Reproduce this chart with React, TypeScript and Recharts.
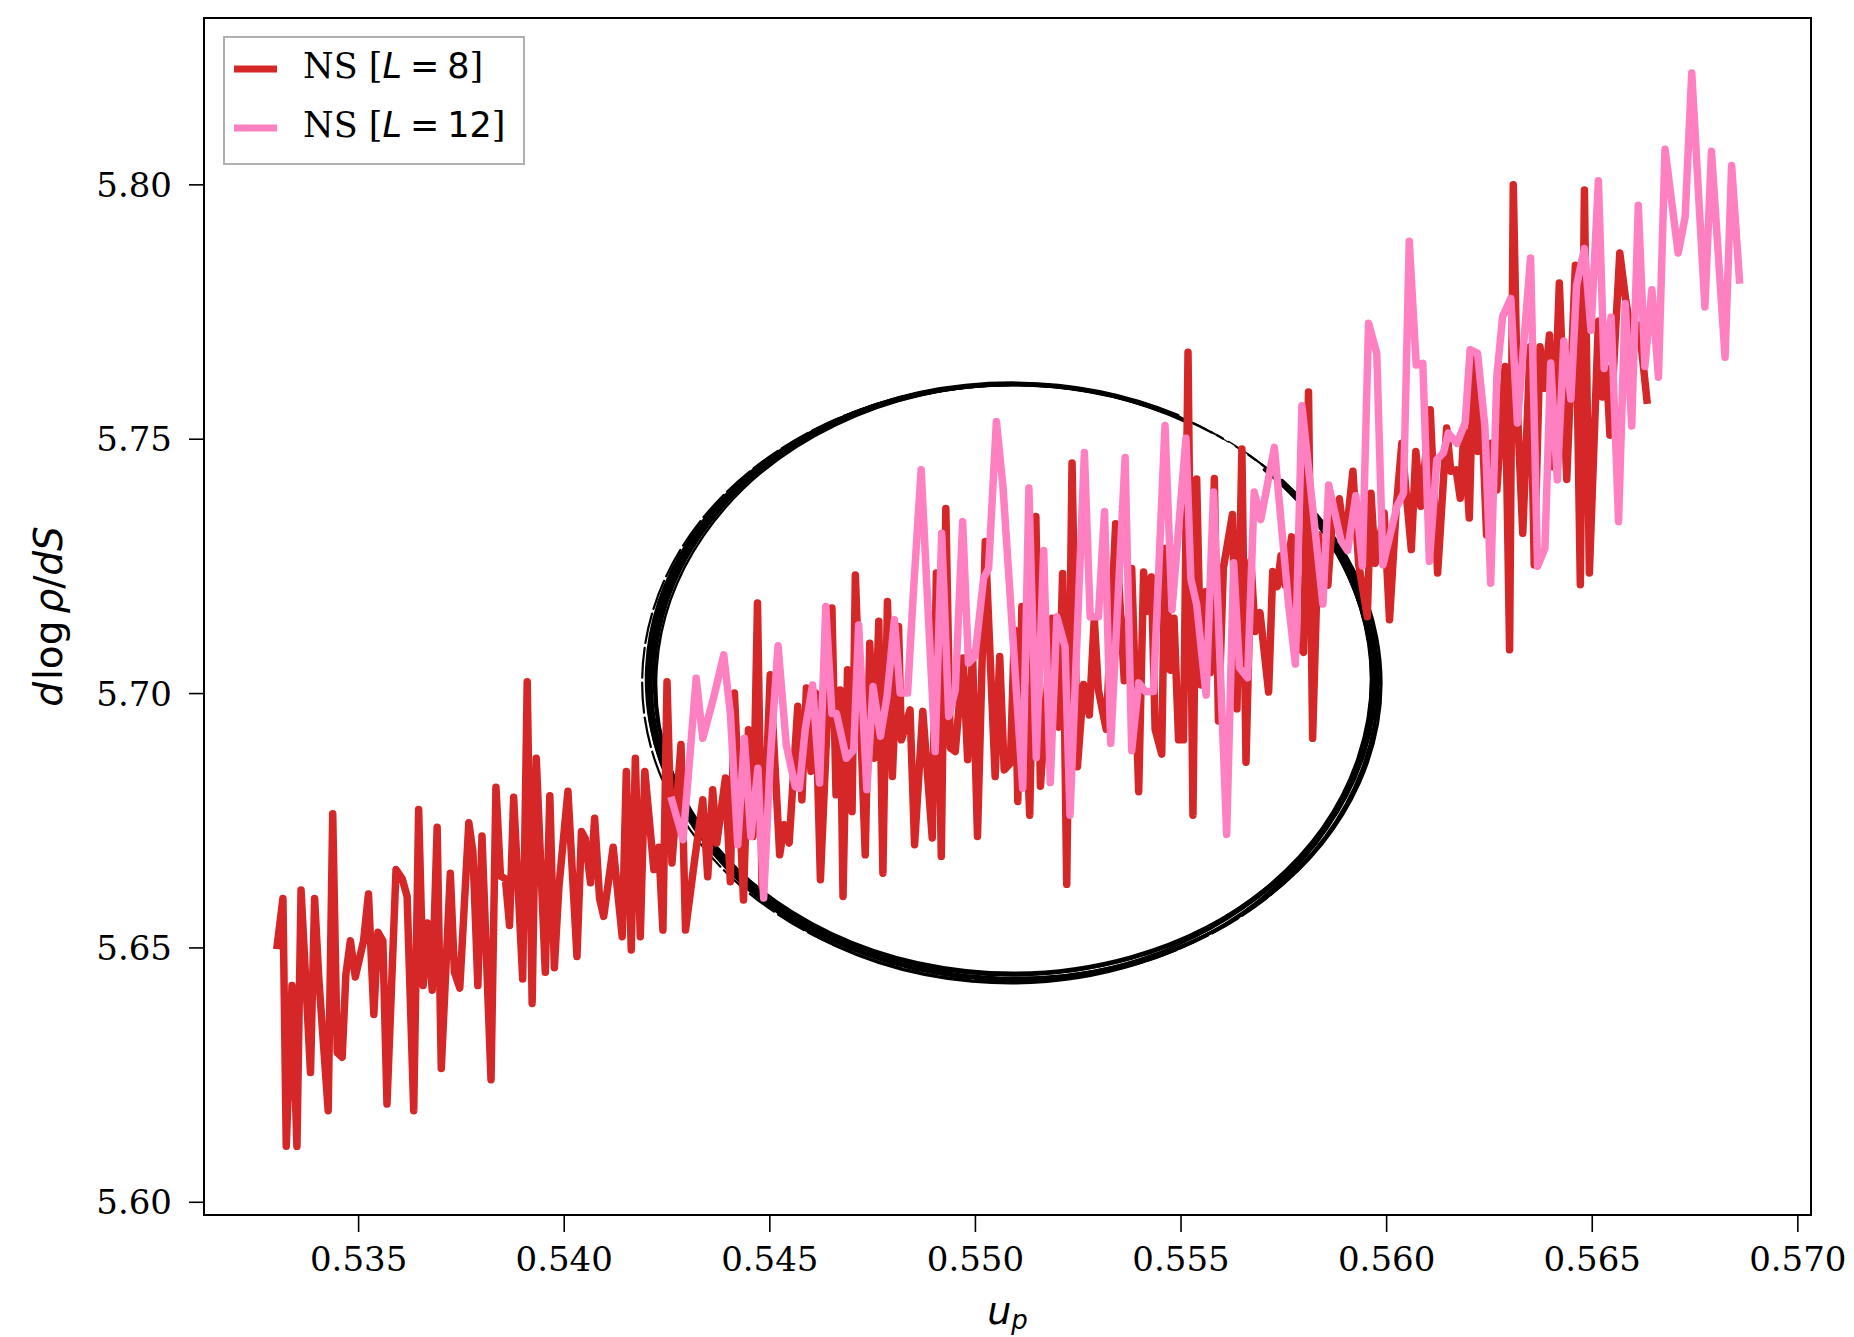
import React from 'react';
import { LineChart, Line, XAxis, YAxis, ReferenceArea, Legend } from 'recharts';

// ---------- data ----------
const redX = [
  0.53302, 0.53316, 0.53324, 0.53338, 0.5335, 0.5336, 0.53383, 0.53393, 0.53403, 0.53426,
  0.53437, 0.53448, 0.5346, 0.53469, 0.5348, 0.53492, 0.53512, 0.53524, 0.53537, 0.53547,
  0.53559, 0.53569, 0.53591, 0.53606, 0.53618, 0.53634, 0.53646, 0.53657, 0.53667, 0.53679,
  0.53691, 0.53701, 0.53723, 0.53733, 0.53746, 0.53768, 0.53778, 0.5379, 0.538, 0.53822,
  0.53834, 0.53845, 0.53857, 0.53867, 0.53877, 0.53899, 0.5391, 0.53922, 0.53932, 0.53954,
  0.53965, 0.53976, 0.53987, 0.54009, 0.54031, 0.54042, 0.54051, 0.54064, 0.54074, 0.54086,
  0.54096, 0.54119, 0.54141, 0.54151, 0.54163, 0.54173, 0.54185, 0.54196, 0.54218, 0.5423,
  0.5424, 0.5425, 0.54262, 0.54284, 0.54295,
  0.54316, 0.54337, 0.54349, 0.54361, 0.54371, 0.54392, 0.54404, 0.54414, 0.54436, 0.54448,
  0.54459, 0.5447, 0.54481, 0.54501, 0.54524, 0.54535, 0.54547, 0.54568, 0.54578, 0.54589,
  0.546, 0.54611, 0.54623, 0.54639, 0.54651, 0.54661, 0.54671, 0.54678, 0.54689, 0.547,
  0.54708,
  0.54732, 0.54743, 0.54754, 0.54765, 0.54775, 0.54786, 0.54798, 0.54813, 0.5482, 0.54841,
  0.54852, 0.54872, 0.54895, 0.54905, 0.54917, 0.54928, 0.54939, 0.54951, 0.5497, 0.54981,
  0.54993, 0.55005, 0.55024, 0.55048, 0.55059, 0.5507, 0.55085, 0.55095, 0.55103, 0.55113,
  0.55132,
  0.55147, 0.55158, 0.5517, 0.55186, 0.55202, 0.55212, 0.55222, 0.55235, 0.55248, 0.55263,
  0.55277, 0.55289, 0.55299, 0.55318, 0.55341, 0.55362, 0.5538, 0.55397, 0.55409, 0.55418,
  0.55428, 0.55437, 0.55453, 0.55461, 0.55474, 0.55483, 0.55494, 0.55506, 0.55517, 0.55529,
  0.55538,
  0.55549, 0.55559, 0.55571, 0.55581, 0.55591, 0.55603, 0.55625, 0.55636, 0.55648, 0.55658,
  0.5567, 0.5568, 0.55692, 0.55713, 0.55723, 0.55734, 0.55743, 0.55753, 0.55769, 0.5578,
  0.55798, 0.5581, 0.5582, 0.55834, 0.55857, 0.55867, 0.55885, 0.55899, 0.55918, 0.55932,
  0.55953, 0.55962, 0.55972, 0.55994, 0.56007, 0.56023, 0.56037, 0.56049, 0.5606, 0.56071,
  0.56083, 0.56106, 0.56124, 0.56146, 0.56156, 0.56169, 0.56179, 0.56188, 0.56201, 0.56211,
  0.56221, 0.56231, 0.56243, 0.56254, 0.56268, 0.56288, 0.56299, 0.56308, 0.56319, 0.56331,
  0.56349, 0.56359, 0.56373, 0.56384, 0.56396, 0.56404, 0.5642,
  0.56438, 0.56459, 0.56471, 0.56481, 0.56493, 0.56515, 0.56525, 0.56535, 0.56543, 0.56567,
  0.56581, 0.56595, 0.56614, 0.56633,
];
const redY = [
  5.6505, 5.6597, 5.611, 5.6426, 5.611, 5.6614, 5.6255, 5.6597, 5.6443, 5.618,
  5.6764, 5.6294, 5.6285, 5.6448, 5.6514, 5.6443, 5.6514, 5.6606, 5.6369, 5.6531,
  5.6514, 5.6193, 5.6654, 5.6636, 5.6601, 5.618, 5.6772, 5.6426, 5.6549, 5.6417,
  5.6737, 5.6263, 5.6647, 5.6452, 5.6421, 5.6746, 5.6689, 5.6426, 5.672, 5.6241,
  5.6816, 5.6641, 5.6636, 5.6544, 5.6796, 5.6439, 5.7023, 5.6391, 5.6873, 5.6452,
  5.6799, 5.6461, 5.6619, 5.6808, 5.6483, 5.6729, 5.6715, 5.6628, 5.6755, 5.6597,
  5.6562, 5.6698, 5.6522, 5.6847, 5.6496, 5.6873, 5.6522, 5.6847, 5.6654, 5.6698,
  5.6535, 5.7023, 5.6667, 5.69, 5.6535,
  5.6666, 5.6791, 5.664, 5.6811, 5.6706, 5.6834, 5.663, 5.7001, 5.6594, 5.6929,
  5.6719, 5.7178, 5.6621, 5.7037, 5.6683, 5.6742, 5.6706, 5.6975, 5.6791, 5.7011,
  5.6847, 5.7001, 5.6634, 5.6935, 5.7168, 5.6801, 5.7007, 5.6601, 5.7047, 5.6768,
  5.7233,
  5.6683, 5.7099, 5.6873, 5.7142, 5.6647, 5.7181, 5.6837, 5.7132, 5.6909, 5.6968,
  5.6703, 5.6965, 5.6716, 5.7237, 5.668, 5.7364, 5.6893, 5.6886, 5.707, 5.687,
  5.7079, 5.6719, 5.7299, 5.6837, 5.7073, 5.685, 5.6863, 5.7125, 5.6788, 5.7171,
  5.6761,
  5.7348, 5.6818, 5.6958, 5.7148, 5.6934, 5.7236, 5.6625, 5.7453, 5.6856, 5.7018,
  5.6958, 5.7148, 5.7007, 5.693, 5.7334, 5.7025, 5.7246, 5.6807, 5.7239, 5.7162,
  5.7229, 5.693, 5.6881, 5.7285, 5.7046, 5.7148, 5.6909, 5.6909, 5.7671, 5.6761,
  5.7422,
  5.7017, 5.72, 5.7041, 5.7423, 5.6946, 5.7247, 5.7352, 5.697, 5.7481, 5.6865,
  5.7261, 5.7122, 5.7159, 5.7003, 5.724, 5.721, 5.7271, 5.7213, 5.7308, 5.7098,
  5.7081, 5.7593, 5.6912, 5.7312, 5.7213, 5.7329, 5.7383, 5.7291, 5.7437, 5.7254,
  5.7151, 5.7394, 5.7256, 5.7355, 5.7145, 5.7361, 5.7492, 5.7381, 5.7283, 5.7476,
  5.7368, 5.7558, 5.7237, 5.7522, 5.7437, 5.744, 5.7384, 5.7519, 5.7345, 5.7656,
  5.7476, 5.7558, 5.7312, 5.7492, 5.74, 5.7643, 5.7086, 5.8, 5.7538, 5.7315,
  5.7682, 5.7253, 5.7682, 5.76, 5.7705, 5.7446, 5.7807,
  5.7421, 5.7842, 5.7214, 5.799, 5.7237, 5.7732, 5.7583, 5.764, 5.7508, 5.7866,
  5.7776, 5.7703, 5.7724, 5.7577,
];
const pinkX = [
  0.54262, 0.54289, 0.54321, 0.54337, 0.54363, 0.54388, 0.54404, 0.54422, 0.54438, 0.54454,
  0.54471, 0.54485, 0.54501, 0.5452, 0.5454, 0.54562, 0.54572, 0.54586, 0.54604, 0.54621,
  0.54636, 0.54651, 0.54662, 0.54686, 0.54704, 0.54716, 0.54736, 0.54751, 0.54769, 0.54785,
  0.54803, 0.54817, 0.54835, 0.5485, 0.54868, 0.54886, 0.54902, 0.54918, 0.54935, 0.54951,
  0.54969, 0.54983, 0.54999, 0.5502, 0.55032, 0.55051, 0.55067, 0.55115, 0.5513, 0.55148,
  0.55166, 0.55182, 0.55198, 0.55218, 0.5523, 0.55265, 0.55279, 0.55299, 0.55314, 0.55329,
  0.55364, 0.5538, 0.55397, 0.55413, 0.55433, 0.55461, 0.55478, 0.55512, 0.55524, 0.55538,
  0.55561, 0.55579, 0.55611, 0.55628, 0.55642, 0.55662, 0.55678, 0.55694, 0.55727, 0.55761,
  0.55778, 0.55794, 0.55845, 0.55859, 0.55889, 0.55905, 0.55925, 0.55941, 0.55956, 0.55976,
  0.55991, 0.56025, 0.56041, 0.56055, 0.56072, 0.56088, 0.56104, 0.56122, 0.56138, 0.5615,
  0.56171, 0.56191, 0.56203, 0.56221, 0.56239, 0.56253, 0.56268, 0.56282, 0.56302, 0.56318,
  0.5635, 0.56367, 0.56385, 0.56399, 0.56415, 0.56431, 0.56448, 0.56462, 0.56481, 0.56497,
  0.56515, 0.56529, 0.56546, 0.56564, 0.5658, 0.56596, 0.56612, 0.56628, 0.56645, 0.56661,
  0.56677, 0.56709, 0.56726, 0.56742, 0.56774, 0.5679, 0.56823, 0.56839, 0.56858,
];
const pinkY = [
  5.679, 5.6713, 5.703, 5.6912, 5.6991, 5.7076, 5.6961, 5.6703, 5.6912, 5.6719,
  5.6853, 5.6598, 5.687, 5.7094, 5.6899, 5.6817, 5.6814, 5.6929, 5.7017, 5.6824,
  5.7171, 5.6961, 5.6961, 5.6873, 5.6889, 5.7135, 5.6811, 5.7014, 5.6916, 5.6994,
  5.7145, 5.7001, 5.7001, 5.721, 5.744, 5.7145, 5.6886, 5.7315, 5.6955, 5.7007,
  5.7338, 5.706, 5.7073, 5.7227, 5.7246, 5.7535, 5.7407, 5.6814, 5.7404, 5.6874,
  5.7281, 5.6825, 5.7151, 5.7092, 5.6761, 5.7474, 5.7151, 5.7151, 5.7358, 5.6902,
  5.7464, 5.6888, 5.7021, 5.7004, 5.7004, 5.7527, 5.7165, 5.7502, 5.7225, 5.7175,
  5.6997, 5.7396, 5.6723, 5.7257, 5.7051, 5.7031, 5.7396, 5.7342, 5.7484, 5.718,
  5.7058, 5.7566, 5.7176, 5.741, 5.7301, 5.7281, 5.7389, 5.7251, 5.7728, 5.7669,
  5.7253, 5.7368, 5.7394, 5.7889, 5.7646, 5.7649, 5.726, 5.746, 5.7473, 5.7512,
  5.7492, 5.7532, 5.7676, 5.7669, 5.7525, 5.7217, 5.7623, 5.7741, 5.7777, 5.7532,
  5.7856, 5.725, 5.7286, 5.765, 5.742, 5.7693, 5.7579, 5.7802, 5.7875, 5.7714,
  5.8008, 5.7639, 5.774, 5.7338, 5.7767, 5.7526, 5.796, 5.7643, 5.7794, 5.7622,
  5.807, 5.7866, 5.7937, 5.822, 5.776, 5.8066, 5.7661, 5.8038, 5.7813,
];
const xTicks = [0.535, 0.54, 0.545, 0.55, 0.555, 0.56, 0.565, 0.57];
const yTicks = [5.6, 5.65, 5.7, 5.75, 5.8];
const xDomain = [0.53124, 0.57032];
const yDomain = [5.5975, 5.8328];
// hand-drawn circle annotation (data-space bounding box)
const ellipseXRange = [0.54209, 0.55972];
const ellipseYRange = [5.6449, 5.7609];
const seriesNames = ['NS [L = 8]', 'NS [L = 12]'];
const legendValues = ['8', '12'];

// ---------- style ----------
const RED = '#d62728';
const PINK = '#ff80c0';
const SERIF = '"DejaVu Serif", serif';
const SANS = '"DejaVu Sans", sans-serif';
const LINE_W = 7.5;

const redData = redX.map((x, i) => ({ x, y: redY[i] }));
const pinkData = pinkX.map((x, i) => ({ x, y: pinkY[i] }));

const ELLIPSE_STROKES = [
  { dx: 0, dy: 0, rx: 0, ry: 0, rot: 0, w: 4.8, t0: -42, t1: 297 },
  { dx: 0, dy: 3, rx: 3, ry: 3, rot: 0.4, w: 3.4, t0: -38, t1: 292 },
  { dx: -1, dy: 5, rx: -2, ry: 4, rot: -0.6, w: 3.2, t0: -45, t1: 300 },
  { dx: 1, dy: 2, rx: 5, ry: 2, rot: 0.8, w: 2.8, t0: -35, t1: 290 },
  { dx: 0, dy: 1, rx: -4, ry: 0, rot: -0.3, w: 3.2, t0: -40, t1: 295 },
  { dx: -2, dy: 4, rx: 6, ry: 4, rot: 0.2, w: 2.2, t0: -50, t1: 305, dash: '30 5' },
  { dx: 1, dy: 3, rx: -5, ry: 2, rot: -1.0, w: 2.4, t0: -44, t1: 298 },
  { dx: 0, dy: 0, rx: 1, ry: 0, rot: 0, w: 1.3, t0: -70, t1: -30, dash: '14 6' },
  { dx: 2, dy: 2, rx: -2, ry: 2, rot: 0.5, w: 1.1, t0: -66, t1: -34, dash: '8 8' },
];

const SketchEllipse = (props: any) => {
  const { x, y, width, height } = props;
  const cx = x + width / 2;
  const cy = y + height / 2;
  const rx = Math.abs(width) / 2;
  const ry = Math.abs(height) / 2;
  return (
    <g>
      {ELLIPSE_STROKES.map((s, i) => {
        const a = rx + s.rx;
        const b = ry + s.ry;
        const ccx = cx + s.dx;
        const ccy = cy + s.dy;
        const r = (s.rot * Math.PI) / 180;
        const pt = (t: number) => {
          const tt = (t * Math.PI) / 180;
          const ex = a * Math.cos(tt);
          const ey = b * Math.sin(tt);
          return [ccx + ex * Math.cos(r) - ey * Math.sin(r), ccy + ex * Math.sin(r) + ey * Math.cos(r)];
        };
        const [x0, y0] = pt(s.t0);
        const [x1, y1] = pt(s.t1);
        const large = s.t1 - s.t0 > 180 ? 1 : 0;
        const d = `M${x0},${y0} A${a},${b} ${s.rot} ${large} 1 ${x1},${y1}`;
        return (
          <path key={i} d={d} fill="none" stroke="#000" strokeWidth={s.w}
            strokeDasharray={(s as any).dash} strokeLinecap="round" />
        );
      })}
    </g>
  );
};

const LegendBox = () => (
  <svg width={302} height={129} style={{ display: 'block' }}>
    <rect x={1} y={1} width={300} height={127} fill="#fff" stroke="#b0b0b0" strokeWidth={2} />
    {[RED, PINK].map((c, i) => (
      <g key={i}>
        <line x1={11} x2={54} y1={33 + i * 59} y2={33 + i * 59} stroke={c} strokeWidth={7} />
        <text x={80} y={42.3 + i * 58.4} fontFamily={SERIF} fontSize={35} fill="#000">
          NS [
          <tspan fontFamily={SANS} fontStyle="italic">L</tspan>
          <tspan fontFamily={SANS} dx={8}>=</tspan>
          <tspan fontFamily={SANS} dx={8}>{legendValues[i]}</tspan>
          <tspan>]</tspan>
        </text>
      </g>
    ))}
  </svg>
);

const YLabel = (props: any) => {
  const vb = props.viewBox || { x: 0, y: 18, width: 204, height: 1197 };
  const cx = vb.x + 62;
  const cy = vb.y + vb.height / 2;
  return (
    <text x={cx} y={cy} transform={`rotate(-90, ${cx}, ${cy})`} textAnchor="middle"
      fontFamily={SANS} fontSize={39} fill="#000">
      <tspan fontStyle="italic">d</tspan>
      <tspan dx={2}>log</tspan>
      <tspan dx={7} fontStyle="italic">ρ</tspan>
      <tspan>/</tspan>
      <tspan fontStyle="italic">dS</tspan>
    </text>
  );
};

const XLabel = (props: any) => {
  const vb = props.viewBox || { x: 204, y: 1215, width: 1607, height: 122 };
  const cx = vb.x + vb.width / 2;
  const by = vb.y + 109;
  return (
    <text x={cx} y={by} textAnchor="middle" fontFamily={SANS} fontSize={38} fill="#000">
      <tspan fontStyle="italic">u</tspan>
      <tspan fontStyle="italic" fontSize={26} dy={5}>p</tspan>
    </text>
  );
};

export default function App() {
  return (
    <div style={{ width: 1854, height: 1337, background: '#fff' }}>
      <style>{'html,body{margin:0;padding:0;overflow:hidden;background:#fff}'}</style>
      <LineChart width={1854} height={1337} margin={{ top: 18, right: 43, bottom: 0, left: 0 }}>
        <XAxis
          dataKey="x"
          type="number"
          domain={xDomain}
          ticks={xTicks}
          interval={0}
          allowDataOverflow
          tickFormatter={(v: number) => v.toFixed(3)}
          tick={{ fontFamily: SERIF, fontSize: 34, fill: '#000' }}
          tickSize={17}
          tickMargin={15}
          axisLine={{ stroke: '#000', strokeWidth: 2 }}
          tickLine={{ stroke: '#000', strokeWidth: 1.6 }}
          height={122}
          label={<XLabel />}
        />
        <YAxis
          type="number"
          domain={yDomain}
          ticks={yTicks}
          interval={0}
          allowDataOverflow
          tickFormatter={(v: number) => v.toFixed(2)}
          tick={{ fontFamily: SERIF, fontSize: 34, fill: '#000' }}
          tickSize={15}
          tickMargin={17}
          axisLine={{ stroke: '#000', strokeWidth: 2 }}
          tickLine={{ stroke: '#000', strokeWidth: 1.6 }}
          width={204}
          label={<YLabel />}
        />
        <ReferenceArea x1={xDomain[0]} x2={xDomain[1]} y1={yDomain[0]} y2={yDomain[1]}
          fill="none" fillOpacity={0} stroke="#000" strokeWidth={2} ifOverflow="visible" />
        <Line data={redData} dataKey="y" name={seriesNames[0]} type="linear" stroke={RED}
          strokeWidth={LINE_W} dot={false} activeDot={false} isAnimationActive={false}
          strokeLinejoin="round" strokeLinecap="square" />
        <Line data={pinkData} dataKey="y" name={seriesNames[1]} type="linear" stroke={PINK}
          strokeWidth={LINE_W} dot={false} activeDot={false} isAnimationActive={false}
          strokeLinejoin="round" strokeLinecap="square" />
        <ReferenceArea x1={ellipseXRange[0]} x2={ellipseXRange[1]} y1={ellipseYRange[0]}
          y2={ellipseYRange[1]} ifOverflow="visible" shape={(p: any) => <SketchEllipse {...p} />} />
        <Legend layout="vertical" align="center" verticalAlign="middle" width={302} height={129}
          wrapperStyle={{ left: 223, top: 36, width: 302, height: 129 }}
          content={() => <LegendBox />} />
      </LineChart>
    </div>
  );
}
